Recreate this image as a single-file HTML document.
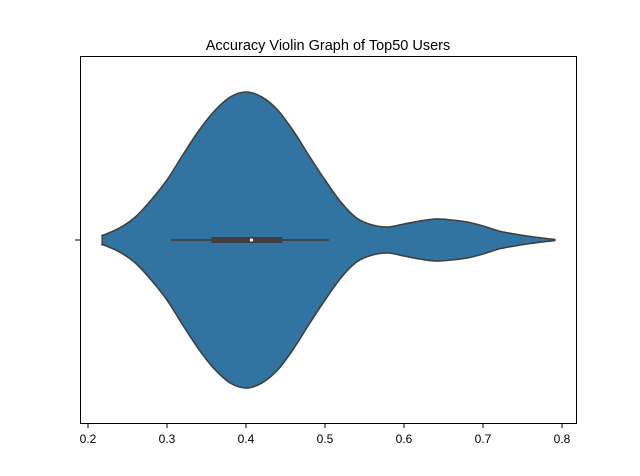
<!DOCTYPE html>
<html><head><meta charset="utf-8"><style>
html,body{margin:0;padding:0;background:#fff;}
svg{display:block;font-family:"Liberation Sans","DejaVu Sans",sans-serif;}
</style></head><body>
<svg id="chart" width="640" height="476" viewBox="0 0 640 476">
<text x="328" y="50" text-anchor="middle" font-size="14.5">Accuracy Violin Graph of Top50 Users</text>
<g id="plot"></g>
<rect x="80.5" y="56.5" width="496" height="367" fill="none" stroke="#000" stroke-width="1"/>
<line x1="75" y1="240" x2="80" y2="240" stroke="#000"/>
<g id="xaxis"></g>
</svg>
<script>
const accuracy = [0.218,0.22,0.24,0.26,0.28,0.30,0.32,0.34,0.36,0.38,0.40,0.42,0.44,0.46,0.48,0.50,0.52,0.54,0.56,0.58,0.60,0.62,0.64,0.66,0.68,0.70,0.72,0.74,0.76,0.78,0.791];
const density  = [5,5,12,23,40,60,85,109,129,143,148,143,130,109,84,60,38,22,15,13,16,19,21,20,18,14,9,6,3.5,1.5,0.5];
const boxStats = [0.305,0.356,0.407,0.446,0.505]; // whiskerLo, q1, median, q3, whiskerHi
const xTicks = [0.2,0.3,0.4,0.5,0.6,0.7,0.8];
const xTickLabels = ["0.2","0.3","0.4","0.5","0.6","0.7","0.8"];

const NS="http://www.w3.org/2000/svg";
const xs = v => 88 + (v-0.2)*790;
const cy = 240;
const wScale = d => d;
function mk(tag, attrs){const e=document.createElementNS(NS,tag);for(const k in attrs)e.setAttribute(k,attrs[k]);return e;}
function curve(pts){
  let d="";
  for(let i=0;i<pts.length-1;i++){
    const p0=pts[i-1]||pts[i],p1=pts[i],p2=pts[i+1],p3=pts[i+2]||p2;
    const c1=[p1[0]+(p2[0]-p0[0])/6,p1[1]+(p2[1]-p0[1])/6];
    const c2=[p2[0]-(p3[0]-p1[0])/6,p2[1]-(p3[1]-p1[1])/6];
    d+=` C${c1[0]},${c1[1]} ${c2[0]},${c2[1]} ${p2[0]},${p2[1]}`;
  }
  return d;
}
const plot=document.getElementById('plot');
const upperPts=accuracy.map((a,i)=>[xs(a),cy-wScale(density[i])]);
const lowerPts=accuracy.map((a,i)=>[xs(a),cy+wScale(density[i])]).reverse();
let d="M"+lowerPts[lowerPts.length-1][0]+","+lowerPts[lowerPts.length-1][1]+" L"+upperPts[0][0]+","+upperPts[0][1]+curve(upperPts)+" L"+lowerPts[0][0]+","+lowerPts[0][1]+curve(lowerPts)+" Z";
const v=mk('path',{d:d,fill:'#3274a1',stroke:'#3f3f3f','stroke-width':1.6,'stroke-linejoin':'round'});


plot.appendChild(v);
const wh=mk('line',{x1:xs(boxStats[0]),x2:xs(boxStats[4]),y1:cy,y2:cy,stroke:'#3f3f3f','stroke-width':1.8});


plot.appendChild(wh);
const bx=mk('rect',{x:xs(boxStats[1]),y:cy-3,width:xs(boxStats[3])-xs(boxStats[1]),height:6,fill:'#3f3f3f'});


plot.appendChild(bx);
const md=mk('circle',{cx:xs(boxStats[2]),cy:cy,r:1.6,fill:'#fff'});


plot.appendChild(md);
const xa=document.getElementById('xaxis');
xTicks.forEach((t,i)=>{
  const x=xs(t);
  const l=mk('line',{x1:x,x2:x,y1:424,y2:428,stroke:'#000'});
  
  
  xa.appendChild(l);
  const tx=mk('text',{x:x,y:443,'text-anchor':'middle','font-size':12});
  tx.textContent=xTickLabels[i];
  
  
  xa.appendChild(tx);
});
</script>
</body></html>
